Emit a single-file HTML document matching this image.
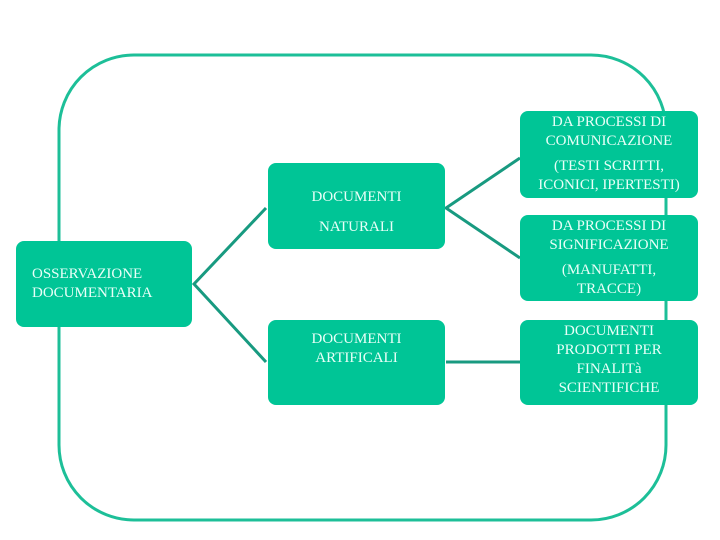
<!DOCTYPE html>
<html><head><meta charset="utf-8"><style>
body{margin:0;width:720px;height:540px;background:#fff;overflow:hidden;position:relative;font-family:"Liberation Serif",serif}
.b{position:absolute;background:#00c596;border-radius:8px;color:#e8fff8;font-size:15px;text-align:center;line-height:19px;box-sizing:border-box}
</style></head><body>
<svg width="720" height="540" style="position:absolute;left:0;top:0">
<rect x="59" y="55" width="607" height="465" rx="75" fill="none" stroke="#1dbf98" stroke-width="3"/>
<g stroke="#189a80" stroke-width="3" fill="none">
<path d="M266 208 L194 284 L266 362"/>
<path d="M520 158 L446 208 L520 258"/>
<path d="M446 362 L520 362"/>
</g>
</svg>
<div class="b" style="left:16px;top:241px;width:176px;height:86px;padding-top:24px;text-align:left;padding-left:16px">OSSERVAZIONE<br>DOCUMENTARIA</div>
<div class="b" style="left:268px;top:163px;width:177px;height:86px;padding-top:19px;line-height:30px;padding-right:0">DOCUMENTI<br>NATURALI</div>
<div class="b" style="left:268px;top:320px;width:177px;height:85px;padding-top:10px">DOCUMENTI<br>ARTIFICALI</div>
<div class="b" style="left:520px;top:111px;width:178px;height:87px;padding-top:2px">DA PROCESSI DI<br>COMUNICAZIONE<div style="height:6px"></div>(TESTI SCRITTI,<br>ICONICI, IPERTESTI)</div>
<div class="b" style="left:520px;top:215px;width:178px;height:86px;padding-top:2px">DA PROCESSI DI<br>SIGNIFICAZIONE<div style="height:6px"></div>(MANUFATTI,<br>TRACCE)</div>
<div class="b" style="left:520px;top:320px;width:178px;height:85px;padding-top:2px">DOCUMENTI<br>PRODOTTI PER<br>FINALITà<br>SCIENTIFICHE</div>
</body></html>
